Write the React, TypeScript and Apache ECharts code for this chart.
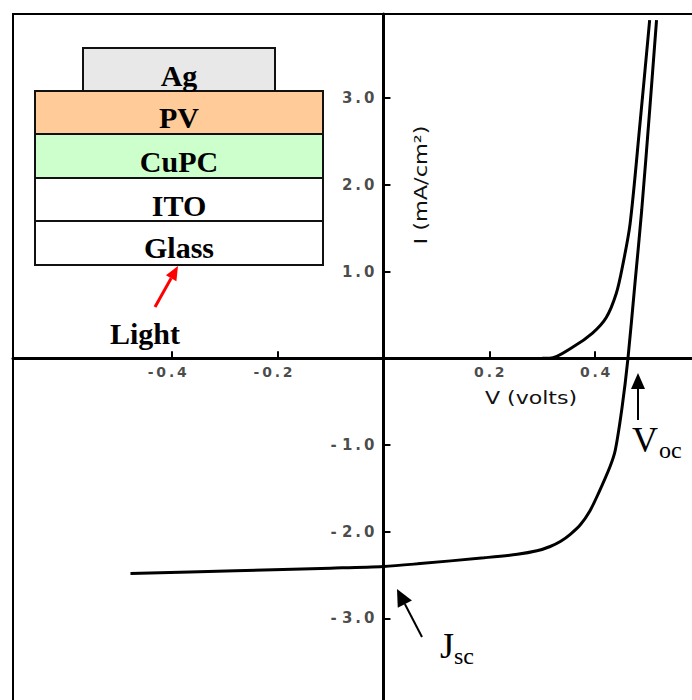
import React, { useEffect, useRef } from "react";
import * as echarts from "echarts";

// Illuminated J-V curve (V in volts, I in mA/cm^2)
const illumV = [-0.478, -0.28, -0.1, 0, 0.064, 0.19, 0.253, 0.29, 0.315, 0.335, 0.353, 0.372, 0.39, 0.406, 0.428, 0.438, 0.451, 0.462, 0.475, 0.488, 0.503, 0.516];
const illumI = [-2.48, -2.45, -2.42, -2.4, -2.37, -2.3, -2.26, -2.22, -2.17, -2.11, -2.03, -1.92, -1.76, -1.56, -1.25, -1.06, -0.56, 0, 0.85, 1.71, 2.86, 3.9];
// Dark curve
const darkV = [0.3, 0.314, 0.358, 0.395, 0.421, 0.44, 0.452, 0.466, 0.484, 0.503];
const darkI = [0, 0, 0.13, 0.29, 0.47, 0.75, 1.07, 1.55, 2.66, 3.9];

const xTicks = [-0.4, -0.2, 0.2, 0.4];
const yTicks = [-3, -2, -1, 1, 2, 3];
const layers = ["Ag", "PV", "CuPC", "ITO", "Glass"];
const layerColors = ["#e8e8e8", "#ffcc99", "#ccffcc", "#ffffff", "#ffffff"];

const spaced = (s: string) => s.split("").join("\u2009");

export default function App() {
  const ref = useRef<HTMLDivElement>(null);
  useEffect(() => {
    if (!ref.current) return;
    const chart = echarts.init(ref.current, null, { renderer: "svg" });
    const labelFont = { fontFamily: "DejaVu Sans", color: "#1a1a1a", fontWeight: "bold" as const };
    const serifB = '"Liberation Serif", serif';

    const boxes = [
      { x: 83, y: 48, w: 192, h: 43, ty: 75 },
      { x: 35, y: 91, w: 288, h: 43, ty: 117 },
      { x: 35, y: 134, w: 288, h: 44, ty: 161 },
      { x: 35, y: 178, w: 288, h: 43, ty: 205 },
      { x: 35, y: 221, w: 288, h: 44, ty: 247 },
    ];
    const graphics: any[] = [];
    graphics.push({ type: "line", shape: { x1: 12, y1: 14, x2: 692, y2: 14 }, style: { stroke: "#000", lineWidth: 2 } });
    graphics.push({ type: "line", shape: { x1: 13, y1: 13, x2: 13, y2: 700 }, style: { stroke: "#000", lineWidth: 2 } });
    boxes.forEach((b, i) => {
      graphics.push({
        type: "rect",
        shape: { x: b.x, y: b.y, width: b.w, height: b.h },
        style: { fill: layerColors[i], stroke: "#111", lineWidth: 2 },
      });
    });
    boxes.forEach((b, i) => {
      graphics.push({
        type: "text",
        x: 179,
        y: b.ty,
        style: {
          text: layers[i],
          fontFamily: serifB,
          fontWeight: "bold",
          fontSize: 30,
          fill: "#000",
          align: "center",
          verticalAlign: "middle",
          textAlign: "center",
          textVerticalAlign: "middle",
        },
      });
    });
    const arrow = (x1: number, y1: number, x2: number, y2: number, color: string, lw: number, hl: number, hw: number) => {
      const dx = x2 - x1, dy = y2 - y1;
      const len = Math.sqrt(dx * dx + dy * dy);
      const ux = dx / len, uy = dy / len;
      const bx = x2 - ux * hl, by = y2 - uy * hl;
      const px = -uy, py = ux;
      graphics.push({
        type: "line",
        shape: { x1, y1, x2: bx, y2: by },
        style: { stroke: color, lineWidth: lw },
      });
      graphics.push({
        type: "polygon",
        shape: { points: [[x2, y2], [bx + px * hw, by + py * hw], [bx - px * hw, by - py * hw]] },
        style: { fill: color },
      });
    };
    arrow(155, 307, 178, 266, "#ff0000", 3, 14, 6);
    arrow(638, 420, 638, 373, "#000", 2, 16, 7);
    arrow(422, 637, 397, 589, "#000", 2, 17, 8);

    const txt = (text: string, x: number, y: number, font: any, extra: any = {}) => ({
      type: "text",
      x,
      y,
      ...extra,
      style: {
        text,
        fill: font.color || "#000",
        align: font.align || "left",
        textAlign: font.align || "left",
        verticalAlign: "middle",
        textVerticalAlign: "middle",
        fontFamily: font.family,
        fontSize: font.size,
        fontWeight: font.weight || "normal",
      },
    });
    graphics.push(txt("Light", 145, 333, { family: serifB, size: 30, weight: "bold", align: "center" }));
    graphics.push(txt("V", 632, 440, { family: serifB, size: 36 }));
    graphics.push(txt("oc", 659, 450, { family: serifB, size: 24 }));
    graphics.push(txt("J", 440, 646, { family: serifB, size: 36 }));
    graphics.push(txt("sc", 454, 656, { family: serifB, size: 24 }));
    graphics.push(txt("V (volts)", 531, 398, { family: "DejaVu Sans", size: 17, align: "center", color: "#111" }, { scaleX: 1.3 }));
    graphics.push(txt("I (mA/cm²)", 421, 185, { family: "DejaVu Sans", size: 17, align: "center", color: "#111" }, { rotation: Math.PI / 2, scaleX: 1.32 }));

    const xMin = -0.7, xMax = 0.583, yMin = -3.94, yMax = 3.97;

    chart.setOption({
      animation: false,
      backgroundColor: "#ffffff",
      grid: { left: 13, top: 14, right: 0, bottom: 0, containLabel: false, outerBoundsMode: "none" },
      xAxis: {
        type: "value",
        min: xMin,
        max: xMax,
        axisLine: { show: true, onZero: true, lineStyle: { color: "#000", width: 3 } },
        axisTick: { show: true, inside: true, length: 7, customValues: xTicks, lineStyle: { color: "#000", width: 2 } },
        axisLabel: { show: false },
        splitLine: { show: false },
      },
      yAxis: {
        type: "value",
        min: yMin,
        max: yMax,
        axisLine: { show: true, onZero: true, lineStyle: { color: "#000", width: 3 } },
        axisTick: { show: true, inside: true, length: 7, customValues: yTicks, lineStyle: { color: "#000", width: 2 } },
        axisLabel: { show: false },
        splitLine: { show: false },
      },
      series: [
        {
          name: "Illuminated",
          type: "line",
          data: illumV.map((v, i) => [v, illumI[i]]),
          showSymbol: false,
          smooth: 0.3,
          lineStyle: { color: "#000", width: 3 },
          z: 5,
        },
        {
          name: "Dark",
          type: "line",
          data: darkV.map((v, i) => [v, darkI[i]]),
          showSymbol: false,
          smooth: 0.3,
          lineStyle: { color: "#000", width: 3 },
          z: 5,
        },
        {
          name: "xTickLabels",
          type: "scatter",
          silent: true,
          symbolSize: 0,
          data: xTicks.map((v) => [v, 0]),
          label: {
            show: true,
            position: "bottom",
            distance: 7,
            formatter: (p: any) => {
              const v = p.value[0];
              const s = spaced(Math.abs(v).toFixed(1));
              return v < 0 ? `{t|-\u2009${s}}{g|\u2009}` : `{t|${s}}`;
            },
            rich: {
              t: { ...labelFont, fontSize: 14 },
              g: { width: 9, fontSize: 14 },
            },
          },
          z: 6,
        },
        {
          name: "yTickLabels",
          type: "scatter",
          silent: true,
          symbolSize: 0,
          data: yTicks.map((v) => [0, v]),
          label: {
            show: true,
            position: "left",
            distance: 9,
            ...labelFont,
            fontSize: 15,
            formatter: (p: any) => {
              const v = p.value[1];
              const s = spaced(Math.abs(v).toFixed(1));
              return v < 0 ? `- ${s}` : s;
            },
          },
          z: 6,
        },
      ],
      graphic: graphics,
    });
    return () => chart.dispose();
  }, []);
  return (
    <div
      ref={ref}
      style={{ position: "fixed", left: 0, top: 0, width: 692, height: 700, background: "#fff" }}
    />
  );
}
